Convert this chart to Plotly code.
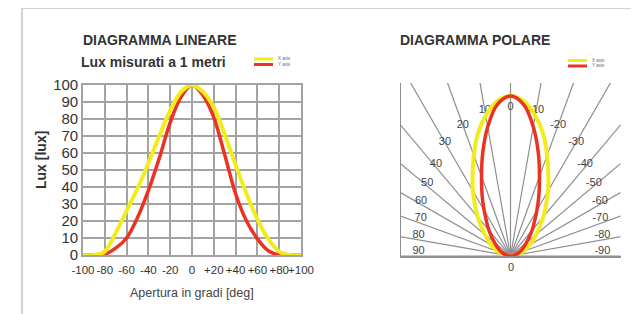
import math
import plotly.graph_objects as go

# ---------------- data ----------------
LIN_ANGLES = [-100, -90, -80, -70, -60, -50, -40, -30, -20, -10, 0,
              10, 20, 30, 40, 50, 60, 70, 80, 90, 100]
LIN_X_AXIS = [0, 0, 2, 13, 26, 39, 54, 70, 85, 96, 100,
              96, 87, 71, 53, 36, 21, 9.5, 2, 0, 0]
LIN_Y_AXIS = [0, 0, 0.5, 4, 10, 22, 38, 57, 78, 93, 100,
              94, 81, 59, 36, 20, 9.5, 2.5, 0, 0, 0]

X_TICK_VALS = [-100, -80, -60, -40, -20, 0, 20, 40, 60, 80, 100]
X_TICK_TEXT = ["-100", "-80", "-60", "-40", "-20", "0", "+20", "+40", "+60", "+80", "+100"]
Y_TICK_VALS = [0, 10, 20, 30, 40, 50, 60, 70, 80, 90, 100]

POL_ANGLES = [-90, -80, -70, -60, -50, -40, -35, -30, -25, -20, -15, -10, -5, 0,
              5, 10, 15, 20, 25, 30, 35, 40, 50, 60, 70, 80, 90]
POL_X_AXIS = [0, 4, 8.5, 14, 21, 32, 38.5, 47, 56, 67, 79, 89, 97, 100,
              97, 89, 79, 67, 56, 47, 38.5, 32, 21, 14, 8.5, 4, 0]
POL_Y_AXIS = [0, 2.3, 5, 8.4, 13, 21, 26, 33, 42, 53, 67, 82, 95, 100,
              95, 82, 67, 53, 42, 33, 26, 21, 13, 8.4, 5, 2.3, 0]

RAY_ANGLES = [-90, -80, -70, -60, -50, -40, -30, -20, -10, 0,
              10, 20, 30, 40, 50, 60, 70, 80, 90]
RAY_LABELS = ["-90", "-80", "-70", "-60", "-50", "-40", "-30", "-20", "-10", "0",
              "10", "20", "30", "40", "50", "60", "70", "80", "90"]

SERIES_NAMES = ["X axis", "Y axis"]

# ---------------- style ----------------
YELLOW = "#f2ec1c"
RED = "#ec3222"
GRID = "#a3a3a3"
RAY = "#8e8e8e"
TXT = "#333333"
W, H = 639, 314
OFF = 8  # the page body margin shifts the figure by 8px; compensate
FONT = "Liberation Sans, Arial, sans-serif"


def px(x):
    return (x - OFF) / W


def py(y):
    return 1 - (y - OFF) / H


# label radius (polar units) and angle placement for each ray label
LABEL_R = {0: 93, 10: 92.5, 20: 87, 30: 82, 40: 74, 50: 69, 60: 65.5, 70: 61, 80: 59, 90: 57.5}
LABEL_A = {0: 0, 10: 10, 20: 20, 30: 30, 40: 39, 50: 49, 60: 58.5, 70: 67, 80: 77, 90: 87}


def to_xy(angles, radii):
    xs = [-r * math.sin(math.radians(a)) for a, r in zip(angles, radii)]
    ys = [r * math.cos(math.radians(a)) for a, r in zip(angles, radii)]
    return xs, ys


fig = go.Figure()

# ---- linear chart ----
fig.add_trace(go.Scatter(x=LIN_ANGLES, y=LIN_Y_AXIS, mode="lines", name=SERIES_NAMES[1],
                         line=dict(color=RED, width=3.5, shape="spline", smoothing=0.9),
                         xaxis="x", yaxis="y", showlegend=False))
fig.add_trace(go.Scatter(x=LIN_ANGLES, y=LIN_X_AXIS, mode="lines", name=SERIES_NAMES[0],
                         line=dict(color=YELLOW, width=4, shape="spline", smoothing=0.9),
                         xaxis="x", yaxis="y", showlegend=False))

# ---- polar chart (drawn on cartesian axes) ----
rx, ry = [], []
for a in RAY_ANGLES:
    ex, ey = to_xy([a], [400])
    rx += [0, ex[0], None]
    ry += [0, ey[0], None]
fig.add_trace(go.Scatter(x=rx, y=ry, mode="lines", line=dict(color=RAY, width=1.2),
                         xaxis="x2", yaxis="y2", showlegend=False, hoverinfo="skip"))

lab_ang = [math.copysign(LABEL_A[abs(a)], a) for a in RAY_ANGLES]
lab_r = [LABEL_R[abs(a)] for a in RAY_ANGLES]
lx, ly = to_xy(lab_ang, lab_r)
fig.add_trace(go.Scatter(x=lx, y=ly, mode="text", text=RAY_LABELS,
                         textfont=dict(family=FONT, size=11, color="#444444"),
                         textposition="middle center", cliponaxis=False,
                         xaxis="x2", yaxis="y2", showlegend=False, hoverinfo="skip"))

yx, yy = to_xy(POL_ANGLES, POL_X_AXIS)
fig.add_trace(go.Scatter(x=yx, y=yy, mode="lines", line=dict(color=YELLOW, width=4, shape="spline", smoothing=1),
                         xaxis="x2", yaxis="y2", showlegend=False))
rrx, rry = to_xy(POL_ANGLES, POL_Y_AXIS)
fig.add_trace(go.Scatter(x=rrx, y=rry, mode="lines", line=dict(color=RED, width=3.5, shape="spline", smoothing=1),
                         xaxis="x2", yaxis="y2", showlegend=False))

# ---------------- layout ----------------
fig.update_layout(
    width=W, height=H, margin=dict(l=0, r=0, t=0, b=0, autoexpand=False),
    paper_bgcolor="white", plot_bgcolor="white",
    xaxis=dict(domain=[px(83), px(301)], range=[-100, 100], tickvals=X_TICK_VALS, ticktext=X_TICK_TEXT,
               showgrid=True, gridcolor=GRID, gridwidth=1.6, zeroline=False, automargin=False,
               showline=True, linecolor=GRID, linewidth=1.6, mirror=True, ticks="", tickangle=0,
               ticklabelstandoff=3,
               tickfont=dict(family=FONT, size=11.5, color=TXT), fixedrange=True),
    yaxis=dict(domain=[py(255), py(85)], range=[0, 100], tickvals=Y_TICK_VALS, automargin=False,
               showgrid=True, gridcolor=GRID, gridwidth=1.6, zeroline=False,
               showline=True, linecolor=GRID, linewidth=1.6, mirror=True, ticks="",
               tickfont=dict(family=FONT, size=15, color=TXT), fixedrange=True),
    xaxis2=dict(domain=[px(400.5), px(620.5)], range=[-68.75, 68.75], anchor="y2", automargin=False,
                showgrid=False, zeroline=False, showticklabels=False, ticks="",
                showline=True, linecolor=RAY, linewidth=1.5),
    yaxis2=dict(domain=[py(256), py(83)], range=[0, 108.125], anchor="x2", automargin=False,
                showgrid=False, zeroline=False, showticklabels=False, ticks="",
                showline=True, linecolor=RAY, linewidth=1.3),
)

ann = []
ann.append(dict(text="<b>DIAGRAMMA LINEARE</b>", x=px(81), y=py(40), xanchor="left", yanchor="middle"))
ann.append(dict(text="<b>Lux misurati a 1 metri</b>", x=px(79), y=py(62), xanchor="left", yanchor="middle"))
ann.append(dict(text="<b>DIAGRAMMA POLARE</b>", x=px(398), y=py(40), xanchor="left", yanchor="middle"))
ann.append(dict(text="<b>Lux [lux]</b>", x=px(41), y=py(160), xanchor="center", yanchor="middle", textangle=-90))
for a in ann:
    a.update(xref="paper", yref="paper", showarrow=False, font=dict(family=FONT, size=14, color=TXT))
ann.append(dict(text="Apertura in gradi [deg]", x=px(191.5), y=py(293), xref="paper", yref="paper",
                showarrow=False, xanchor="center", yanchor="middle",
                font=dict(family=FONT, size=12.5, color="#444444")))
ann.append(dict(text="0", x=0, xref="x2", y=py(267), yref="paper", showarrow=False,
                xanchor="center", yanchor="middle", font=dict(family=FONT, size=11, color="#444444")))

shapes = []
# legends (swatches + tiny text)
for lx0, ly0 in [(254, 57.5), (568, 59)]:
    shapes.append(dict(type="rect", xref="paper", yref="paper", x0=px(lx0), x1=px(lx0 + 19),
                       y0=py(ly0), y1=py(ly0 + 3), fillcolor=YELLOW, line=dict(width=0)))
    shapes.append(dict(type="rect", xref="paper", yref="paper", x0=px(lx0), x1=px(lx0 + 19),
                       y0=py(ly0 + 5.5), y1=py(ly0 + 8.5), fillcolor=RED, line=dict(width=0)))
    for i, nm in enumerate(SERIES_NAMES):
        ann.append(dict(text=nm, x=px(lx0 + 22), y=py(ly0 + 1.5 + 5.5 * i), xref="paper", yref="paper",
                        showarrow=False, xanchor="left", yanchor="middle",
                        font=dict(family=FONT, size=4.5, color="#666666")))
# outer frame
shapes.append(dict(type="line", xref="paper", yref="paper", x0=px(22), x1=1, y0=py(8), y1=py(8),
                   line=dict(color="#c4c4c4", width=1.5)))
shapes.append(dict(type="line", xref="paper", yref="paper", x0=px(22), x1=px(22), y0=0, y1=py(8),
                   line=dict(color="#c4c4c4", width=1.5)))

fig.update_layout(annotations=ann, shapes=shapes)
fig.write_html("out.html")
